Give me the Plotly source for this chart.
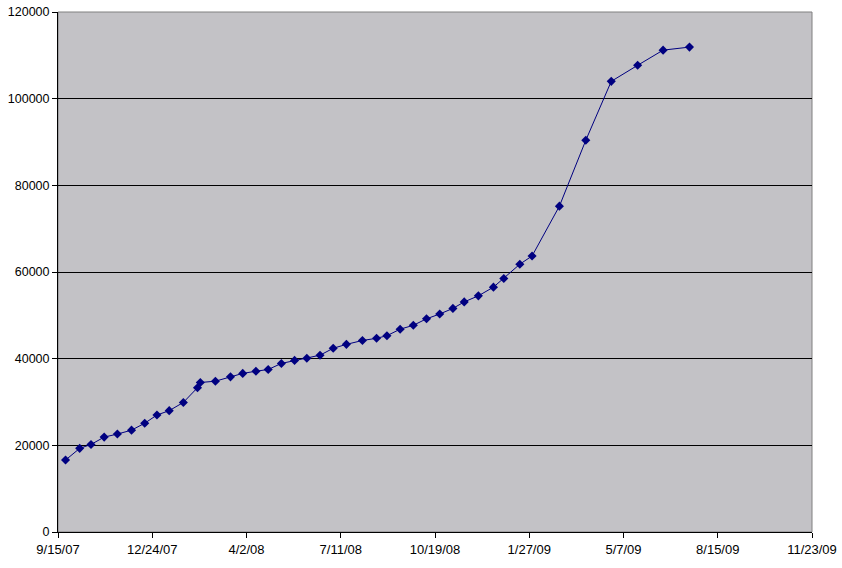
import plotly.graph_objects as go

dates = [
    "2007-09-23", "2007-10-08", "2007-10-20", "2007-11-03", "2007-11-17", "2007-12-02",
    "2007-12-16", "2007-12-29", "2008-01-11", "2008-01-26", "2008-02-10", "2008-02-13",
    "2008-02-29", "2008-03-16", "2008-03-29", "2008-04-12", "2008-04-25", "2008-05-09",
    "2008-05-23", "2008-06-05", "2008-06-19", "2008-07-03", "2008-07-17", "2008-08-03",
    "2008-08-18", "2008-08-29", "2008-09-12", "2008-09-26", "2008-10-10", "2008-10-24",
    "2008-11-07", "2008-11-19", "2008-12-04", "2008-12-20", "2008-12-31", "2009-01-17",
    "2009-01-30", "2009-02-28", "2009-03-28", "2009-04-24", "2009-05-22", "2009-06-18",
    "2009-07-16",
]
values = [
    16600, 19300, 20200, 21900, 22600, 23500, 25100, 27000, 28000, 29900, 33300, 34500,
    34800, 35800, 36600, 37100, 37500, 38900, 39600, 40100, 40800, 42400, 43300, 44200,
    44700, 45300, 46800, 47700, 49200, 50300, 51600, 53100, 54500, 56500, 58500, 61800,
    63700, 75200, 90400, 104000, 107700, 111200, 111900,
]
tick_dates = ["2007-09-15", "2007-12-24", "2008-04-02", "2008-07-11", "2008-10-19",
              "2009-01-27", "2009-05-07", "2009-08-15", "2009-11-23"]
tick_labels = ["9/15/07", "12/24/07", "4/2/08", "7/11/08", "10/19/08",
               "1/27/09", "5/7/09", "8/15/09", "11/23/09"]
y_ticks = [0, 20000, 40000, 60000, 80000, 100000, 120000]

fig = go.Figure()
fig.add_trace(go.Scatter(
    x=dates, y=values, mode="lines+markers",
    line=dict(color="#000080", width=1),
    marker=dict(symbol="diamond", size=7, color="#000080"),
    showlegend=False,
))

fig.update_layout(
    width=842, height=568,
    margin=dict(l=58, r=30, t=12, b=36),
    paper_bgcolor="white",
    plot_bgcolor="#C3C2C6",
    font=dict(family="Liberation Sans, Arial, sans-serif", size=13, color="black"),
    shapes=[dict(type="rect", xref="paper", yref="paper", x0=0, y0=0, x1=1, y1=1,
                 line=dict(color="#808080", width=1), layer="below")],
)
fig.update_xaxes(
    type="date", range=["2007-09-15", "2009-11-23"],
    tickmode="array", tickvals=tick_dates, ticktext=tick_labels,
    showgrid=False, zeroline=False, automargin=False,
    showline=True, linecolor="black", linewidth=1,
    ticks="outside", ticklen=5, tickcolor="black",
    tickfont=dict(size=13),
)
fig.update_yaxes(
    range=[0, 120000], tickmode="array", tickvals=y_ticks,
    ticktext=[str(v) for v in y_ticks],
    showgrid=True, gridcolor="black", gridwidth=1, zeroline=False, automargin=False,
    showline=True, linecolor="black", linewidth=1,
    ticks="outside", ticklen=5, tickcolor="black",
    tickfont=dict(size=12.5),
)

fig.write_html(
    "out.html",
    config={"displayModeBar": False},
    post_script="document.body.style.margin='0';document.body.style.overflow='hidden';",
)
